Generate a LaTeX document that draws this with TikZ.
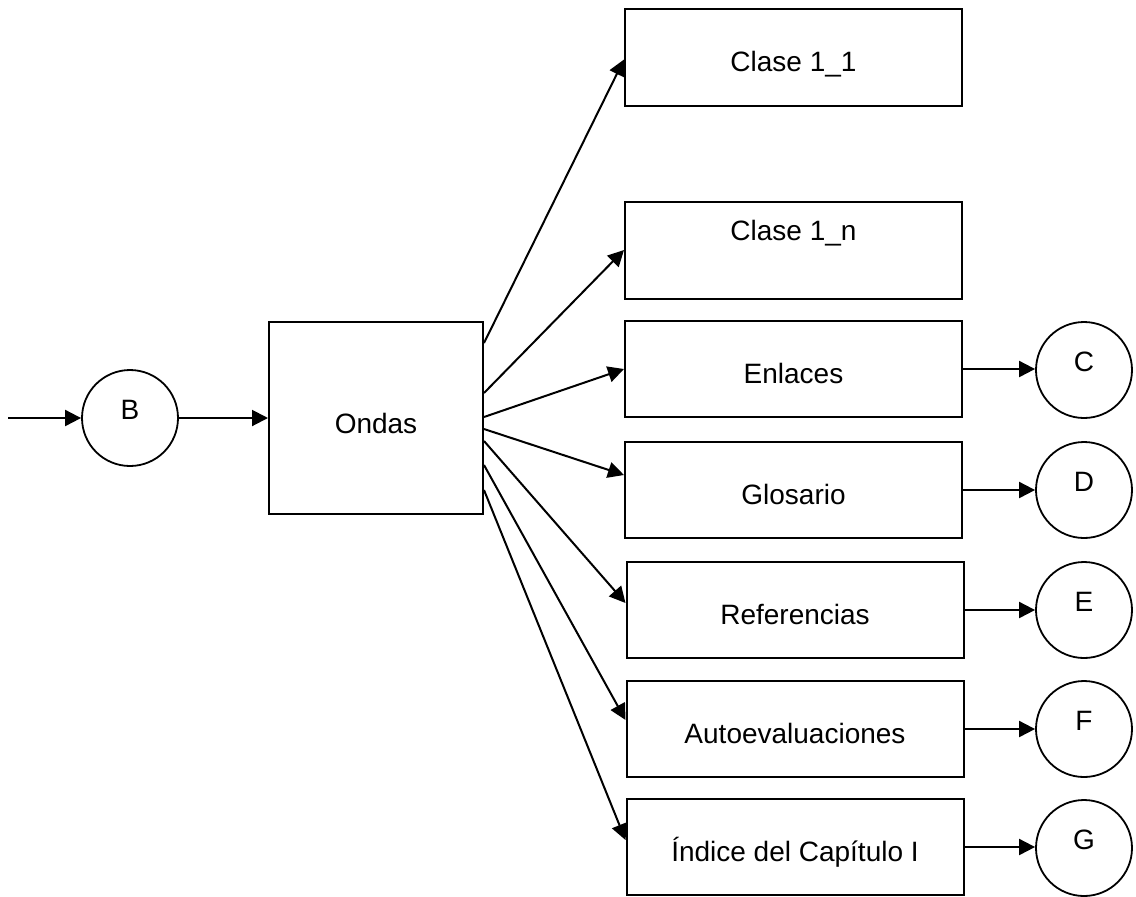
\documentclass[tikz,border=0pt]{standalone}
\usepackage{fontspec}
\setmainfont{Liberation Sans}
\usetikzlibrary{arrows.meta}
\begin{document}
\begin{tikzpicture}[x=0.5pt,y=-0.5pt,
  every node/.style={font=\fontsize{14}{17}\selectfont},
  box/.style={draw, line width=1pt, rectangle, minimum width=168.5pt, minimum height=48.5pt,
    inner sep=0pt, text height=14pt, text depth=0pt},
  circ/.style={draw, line width=0.9pt, circle, minimum size=48pt, inner sep=0pt,
    text height=1.5pt, text depth=0pt},
  arr/.style={line width=1pt, -{Triangle[length=8pt,width=8pt]}}]
\useasboundingbox (0,0) rectangle (1136,896);

% entry and main block
\coordinate (in) at (8,418);
\node[circ] (B) at (130,418) {B};
\node[box, minimum width=107pt, minimum height=96pt, text height=15pt] (ondas) at (376,418) {Ondas};

% content blocks
\node[box] (c11) at (793.5,57.5) {Clase 1\_1};
\node[box, text height=0pt, text depth=10pt] (c1n) at (793.5,250) {Clase 1\_n};
\node[box, minimum height=48pt] (enl) at (793.5,369) {Enlaces};
\node[box, minimum height=48pt] (glo) at (793.5,490) {Glosario};
\node[box, minimum height=48pt] (ref) at (795,610) {Referencias};
\node[box, minimum height=48pt] (auto) at (795,729) {Autoevaluaciones};
\node[box, minimum height=48pt] (ind) at (795,847) {Índice del Capítulo I};

% exit connectors
\node[circ] (C) at (1084,370) {C};
\node[circ] (D) at (1084,490) {D};
\node[circ] (E) at (1084,610) {E};
\node[circ] (F) at (1084,729) {F};
\node[circ] (G) at (1084,848) {G};

% flow
\draw[arr] (in) -- (B.west);
\draw[arr] (B.east) -- (ondas.west);

\draw[arr] ([yshift=37.5pt]ondas.east) -- ([yshift=-1pt]c11.west);
\draw[arr] ([yshift=12.5pt]ondas.east) -- (c1n.west);
\draw[arr] ([yshift=0.5pt]ondas.east) -- (enl.west);
\draw[arr] ([yshift=-5.5pt]ondas.east) -- ([yshift=7.5pt]glo.west);
\draw[arr] ([yshift=-11.5pt]ondas.east) -- ([yshift=3.5pt]ref.west);
\draw[arr] ([yshift=-23.5pt]ondas.east) -- ([yshift=4.5pt]auto.west);
\draw[arr] ([yshift=-36pt]ondas.east) -- ([yshift=3.5pt]ind.west);

\draw[arr] (enl.east) -- (enl.east -| C.west);
\draw[arr] (glo.east) -- (glo.east -| D.west);
\draw[arr] (ref.east) -- (ref.east -| E.west);
\draw[arr] (auto.east) -- (auto.east -| F.west);
\draw[arr] (ind.east) -- (ind.east -| G.west);
\end{tikzpicture}
\end{document}
